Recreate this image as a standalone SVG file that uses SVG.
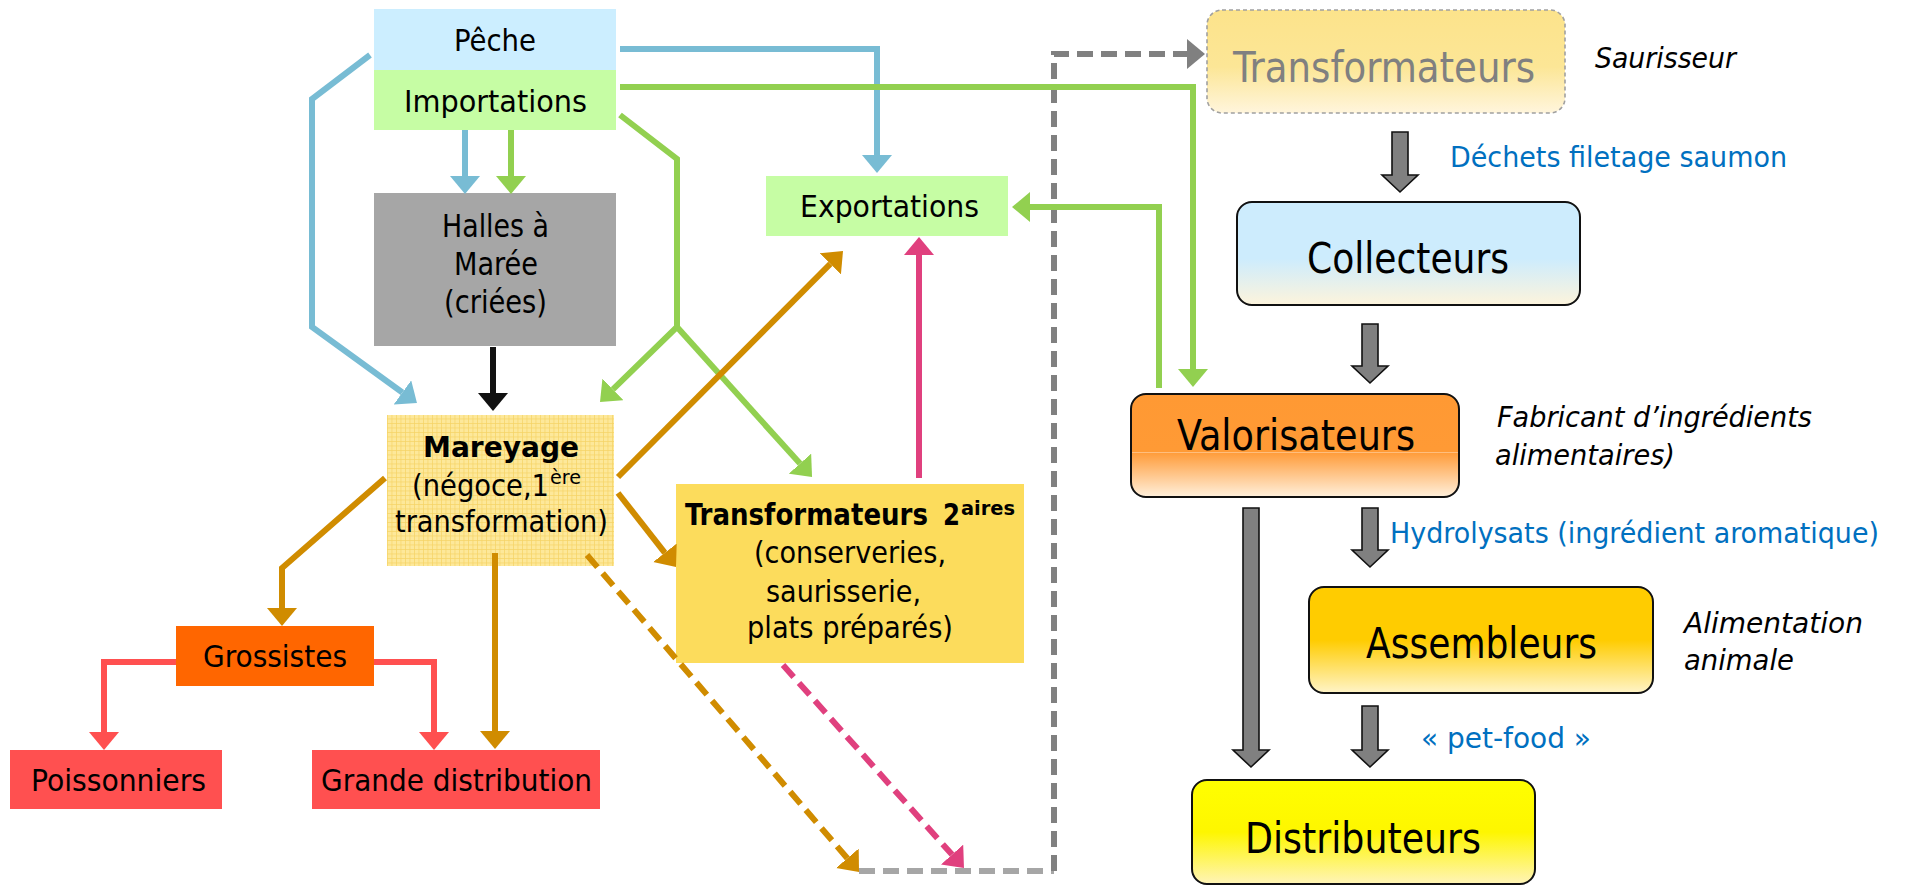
<svg xmlns="http://www.w3.org/2000/svg" width="1908" height="885" viewBox="0 0 1908 885">
<style>
.t{font-family:"DejaVu Sans Condensed","DejaVu Sans","Liberation Sans",sans-serif;font-stretch:condensed;fill:#000}
.b{font-weight:bold}
.i{font-style:italic}
.blue{fill:#0070c0}
.ln{fill:none;stroke-width:6;stroke-linejoin:miter}
.dash{stroke-dasharray:16 8}
.blk{fill:#808080;stroke:#111;stroke-width:1.6;stroke-linejoin:miter}
.rbox{stroke:#111;stroke-width:2}
</style>
<defs>
<pattern id="grid" width="4.5" height="4.5" patternUnits="userSpaceOnUse">
<rect width="4.5" height="4.5" fill="#fde89a"/>
<path d="M0,0.3H4.5M0.3,0V4.5" stroke="#f6d264" stroke-width="0.8"/>
</pattern>
<linearGradient id="gTr" x1="0" y1="0" x2="0" y2="1">
<stop offset="0" stop-color="#fce38b"/><stop offset="0.55" stop-color="#fce696"/><stop offset="1" stop-color="#fff5dc"/>
</linearGradient>
<linearGradient id="gCo" x1="0" y1="0" x2="0" y2="1">
<stop offset="0" stop-color="#cdecfd"/><stop offset="0.55" stop-color="#cdecfd"/><stop offset="1" stop-color="#fdf4dc"/>
</linearGradient>
<linearGradient id="gVa" x1="0" y1="0" x2="0" y2="1">
<stop offset="0" stop-color="#ff9933"/><stop offset="0.56" stop-color="#ff9a35"/><stop offset="0.565" stop-color="#ffcc99"/><stop offset="0.575" stop-color="#ff9d3c"/><stop offset="1" stop-color="#fff0dc"/>
</linearGradient>
<linearGradient id="gAs" x1="0" y1="0" x2="0" y2="1">
<stop offset="0" stop-color="#ffcc00"/><stop offset="0.5" stop-color="#ffcc00"/><stop offset="1" stop-color="#fff4c8"/>
</linearGradient>
<linearGradient id="gDi" x1="0" y1="0" x2="0" y2="1">
<stop offset="0" stop-color="#ffff00"/><stop offset="0.5" stop-color="#fef600"/><stop offset="1" stop-color="#fff4b8"/>
</linearGradient>
<marker id="mBlue" markerUnits="userSpaceOnUse" markerWidth="19" markerHeight="30" refX="0" refY="15" orient="auto"><path d="M0,0L18,15L0,30Z" fill="#78bcd4"/></marker>
<marker id="mGreen" markerUnits="userSpaceOnUse" markerWidth="19" markerHeight="30" refX="0" refY="15" orient="auto"><path d="M0,0L18,15L0,30Z" fill="#92d050"/></marker>
<marker id="mBlack" markerUnits="userSpaceOnUse" markerWidth="19" markerHeight="30" refX="0" refY="15" orient="auto"><path d="M0,0L18,15L0,30Z" fill="#111"/></marker>
<marker id="mOr" markerUnits="userSpaceOnUse" markerWidth="19" markerHeight="30" refX="0" refY="15" orient="auto"><path d="M0,0L18,15L0,30Z" fill="#d08c00"/></marker>
<marker id="mPink" markerUnits="userSpaceOnUse" markerWidth="19" markerHeight="30" refX="0" refY="15" orient="auto"><path d="M0,0L18,15L0,30Z" fill="#e0407e"/></marker>
<marker id="mRed" markerUnits="userSpaceOnUse" markerWidth="19" markerHeight="30" refX="0" refY="15" orient="auto"><path d="M0,0L18,15L0,30Z" fill="#ff5050"/></marker>
<marker id="mGray" markerUnits="userSpaceOnUse" markerWidth="19" markerHeight="30" refX="0" refY="15" orient="auto"><path d="M0,0L18,15L0,30Z" fill="#808080"/></marker>
</defs>
<rect width="1908" height="885" fill="#fff"/>

<g id="peche"><rect x="374" y="9" width="242" height="61" fill="#cceeff"/><text class="t" x="454" y="51" font-size="31" textLength="82" lengthAdjust="spacingAndGlyphs">Pêche</text></g>
<g id="importations"><rect x="374" y="70" width="242" height="60" fill="#c6fda4"/><text class="t" x="404" y="112" font-size="31" textLength="183" lengthAdjust="spacingAndGlyphs">Importations</text></g>
<g id="halles"><rect x="374" y="193" width="242" height="153" fill="#a6a6a6"/>
<text class="t" x="442" y="237" font-size="32" textLength="107" lengthAdjust="spacingAndGlyphs">Halles à</text>
<text class="t" x="454" y="275" font-size="32" textLength="84" lengthAdjust="spacingAndGlyphs">Marée</text>
<text class="t" x="444" y="313" font-size="32" textLength="103" lengthAdjust="spacingAndGlyphs">(criées)</text></g>
<g id="exportations"><rect x="766" y="176" width="242" height="60" fill="#c6fda4"/><text class="t" x="800" y="217" font-size="31" textLength="179" lengthAdjust="spacingAndGlyphs">Exportations</text></g>
<g id="mareyage"><rect x="387" y="415" width="227" height="151" fill="url(#grid)"/>
<text class="t b" x="423" y="457" font-size="29" textLength="156" lengthAdjust="spacingAndGlyphs">Mareyage</text>
<text class="t" y="496" font-size="30"><tspan x="412" textLength="137" lengthAdjust="spacingAndGlyphs">(négoce,1</tspan><tspan x="550" y="484" font-size="19" textLength="31" lengthAdjust="spacingAndGlyphs">ère</tspan></text>
<text class="t" x="395" y="532" font-size="30" textLength="213" lengthAdjust="spacingAndGlyphs">transformation)</text></g>
<g id="grossistes"><rect x="176" y="626" width="198" height="60" fill="#ff6600"/><text class="t" x="203" y="667" font-size="30" textLength="144" lengthAdjust="spacingAndGlyphs">Grossistes</text></g>
<g id="poissonniers"><rect x="10" y="750" width="212" height="59" fill="#ff5050"/><text class="t" x="31" y="791" font-size="30" textLength="175" lengthAdjust="spacingAndGlyphs">Poissonniers</text></g>
<g id="grande-distribution"><rect x="312" y="750" width="288" height="59" fill="#ff5050"/><text class="t" x="321" y="791" font-size="30" textLength="271" lengthAdjust="spacingAndGlyphs">Grande distribution</text></g>
<g id="transformateurs-2aires"><rect x="676" y="484" width="348" height="179" fill="#fcdc5c"/>
<text class="t b" y="525" font-size="30"><tspan x="685" textLength="243" lengthAdjust="spacingAndGlyphs">Transformateurs</tspan><tspan x="943" textLength="17" lengthAdjust="spacingAndGlyphs">2</tspan><tspan x="961" y="515" font-size="20" textLength="54" lengthAdjust="spacingAndGlyphs">aires</tspan></text>
<text class="t" x="754" y="563" font-size="30" textLength="192" lengthAdjust="spacingAndGlyphs">(conserveries,</text>
<text class="t" x="766" y="602" font-size="30" textLength="155" lengthAdjust="spacingAndGlyphs">saurisserie,</text>
<text class="t" x="747" y="638" font-size="30" textLength="206" lengthAdjust="spacingAndGlyphs">plats préparés)</text></g>

<g id="transformateurs"><rect x="1207" y="10" width="358" height="103" rx="15" fill="url(#gTr)" stroke="#a0a0a0" stroke-width="1.6" stroke-dasharray="4 3"/>
<text class="t" x="1233" y="82" font-size="42" style="fill:#808080" textLength="302" lengthAdjust="spacingAndGlyphs">Transformateurs</text></g>
<g id="collecteurs"><rect class="rbox" x="1237" y="202" width="343" height="103" rx="15" fill="url(#gCo)"/>
<text class="t" x="1307" y="273" font-size="42" textLength="202" lengthAdjust="spacingAndGlyphs">Collecteurs</text></g>
<g id="valorisateurs"><rect class="rbox" x="1131" y="394" width="328" height="103" rx="15" fill="url(#gVa)"/>
<text class="t" x="1177" y="450" font-size="42" textLength="238" lengthAdjust="spacingAndGlyphs">Valorisateurs</text></g>
<g id="assembleurs"><rect class="rbox" x="1309" y="587" width="344" height="106" rx="15" fill="url(#gAs)"/>
<text class="t" x="1366" y="658" font-size="42" textLength="231" lengthAdjust="spacingAndGlyphs">Assembleurs</text></g>
<g id="distributeurs"><rect class="rbox" x="1192" y="780" width="343" height="104" rx="15" fill="url(#gDi)"/>
<text class="t" x="1245" y="853" font-size="42" textLength="236" lengthAdjust="spacingAndGlyphs">Distributeurs</text></g>

<g id="annotations">
<text class="t i" x="1595" y="68" font-size="29" textLength="141" lengthAdjust="spacingAndGlyphs">Saurisseur</text>
<text class="t blue" x="1450" y="167" font-size="29" textLength="337" lengthAdjust="spacingAndGlyphs">Déchets filetage saumon</text>
<text class="t i" x="1497" y="427" font-size="29" textLength="315" lengthAdjust="spacingAndGlyphs">Fabricant d’ingrédients</text>
<text class="t i" x="1495" y="465" font-size="29" textLength="180" lengthAdjust="spacingAndGlyphs">alimentaires)</text>
<text class="t blue" x="1390" y="543" font-size="29" textLength="489" lengthAdjust="spacingAndGlyphs">Hydrolysats (ingrédient aromatique)</text>
<text class="t i" x="1684" y="633" font-size="29" textLength="179" lengthAdjust="spacingAndGlyphs">Alimentation</text>
<text class="t i" x="1684" y="670" font-size="29" textLength="110" lengthAdjust="spacingAndGlyphs">animale</text>
<text class="t blue" x="1421" y="748" font-size="29" textLength="170" lengthAdjust="spacingAndGlyphs">« pet-food »</text>
</g>

<g id="connectors">
<path class="ln dash" d="M859,871H1054" stroke="#a6a6a6"/>
<path class="ln dash" d="M1054,871V54H1187" stroke="#808080" marker-end="url(#mGray)"/>
<path class="ln" d="M370,55L312,99V327L402.4,392.5" stroke="#78bcd4" marker-end="url(#mBlue)"/>
<path class="ln" d="M620,49H877V155" stroke="#78bcd4" marker-end="url(#mBlue)"/>
<path class="ln" d="M465,130V176" stroke="#78bcd4" marker-end="url(#mBlue)"/>
<path class="ln" d="M511,130V176" stroke="#92d050" marker-end="url(#mGreen)"/>
<path class="ln" d="M620,87H1193V369" stroke="#92d050" marker-end="url(#mGreen)"/>
<path class="ln" d="M620,115L677,159V327L612.9,389.4" stroke="#92d050" marker-end="url(#mGreen)"/>
<path class="ln" d="M677,327L800,463.6" stroke="#92d050" marker-end="url(#mGreen)"/>
<path class="ln" d="M1159,388V207H1030" stroke="#92d050" marker-end="url(#mGreen)"/>
<path class="ln" d="M493,347V393" stroke="#111" marker-end="url(#mBlack)"/>
<path class="ln" d="M618,477L830.3,263.8" stroke="#d08c00" marker-end="url(#mOr)"/>
<path class="ln" d="M919,478V255" stroke="#e0407e" marker-end="url(#mPink)"/>
<path class="ln" d="M618,493L664.9,552.8" stroke="#d08c00" marker-end="url(#mOr)"/>
<path class="ln" d="M385,478L282,568V608" stroke="#d08c00" marker-end="url(#mOr)"/>
<path class="ln" d="M495,553V731" stroke="#d08c00" marker-end="url(#mOr)"/>
<path class="ln" d="M176,662H104V732" stroke="#ff5050" marker-end="url(#mRed)"/>
<path class="ln" d="M374,662H434V732" stroke="#ff5050" marker-end="url(#mRed)"/>
<path class="ln dash" d="M587,555L847.3,858.3" stroke="#d08c00" marker-end="url(#mOr)"/>
<path class="ln dash" d="M783,665L952,854.6" stroke="#e0407e" marker-end="url(#mPink)"/>
<polygon class="blk" points="1392,132 1408,132 1408,175 1418,175 1400,192 1382,175 1392,175"/>
<polygon class="blk" points="1362,324 1378,324 1378,366 1388,366 1370,383 1352,366 1362,366"/>
<polygon class="blk" points="1362,508 1378,508 1378,550 1388,550 1370,567 1352,550 1362,550"/>
<polygon class="blk" points="1243,508 1259,508 1259,750 1269,750 1251,767 1233,750 1243,750"/>
<polygon class="blk" points="1362,706 1378,706 1378,750 1388,750 1370,767 1352,750 1362,750"/>
</g>
</svg>
